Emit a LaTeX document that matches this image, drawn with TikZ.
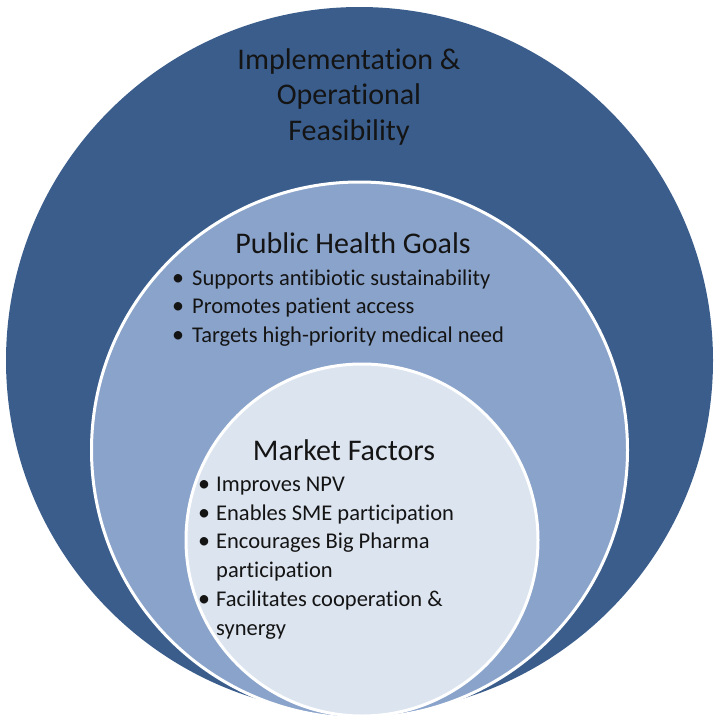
\documentclass[tikz,border=0pt]{standalone}
\usepackage{fontspec}
\setmainfont{Carlito}[Ligatures={NoCommon}]
\definecolor{outerblue}{HTML}{3A5D8C}
\definecolor{midblue}{HTML}{8AA3CB}
\definecolor{innerblue}{HTML}{DCE4F0}
\definecolor{txt}{HTML}{141414}
\begin{document}
\begin{tikzpicture}[x=1pt,y=-1pt,
  ring/.style={circle, inner sep=0pt, outer sep=0pt, draw=white, line width=3pt},
  head/.style={anchor=base, inner sep=0pt, font=\fontsize{30}{36}\selectfont, text=txt},
  item/.style={anchor=base west, inner sep=0pt, font=\fontsize{22.5}{29}\selectfont, text=txt},
  dot/.style={anchor=base, inner sep=0pt, font=\fontsize{24}{29}\selectfont, text=txt}]
\useasboundingbox (0,0) rectangle (720,720);
\node[ring, draw=none, fill=outerblue, minimum size=707pt] (outer) at (359.5,360.5) {};
\node[ring, fill=midblue, minimum size=536pt] (middle) at (359.5,450) {};
\node[ring, fill=innerblue, minimum size=352pt] (inner) at (362,540) {};
% outer ring title
\node[head] (t1) at (349,69) {Implementation \&};
\node[head] (t2) at (349,104.5) {Operational};
\node[head] (t3) at (349,140) {Feasibility};
% public health goals
\node[head] (ph) at (353,253) {Public Health Goals};
\node[dot] (pb1) at (178,285) {•};
\node[item] (pi1) at (192,285) {Supports antibiotic sustainability};
\node[dot] (pb2) at (178,313.5) {•};
\node[item] (pi2) at (192,313.5) {Promotes patient access};
\node[dot] (pb3) at (178,342) {•};
\node[item] (pi3) at (192,342) {Targets high-priority medical need};
% market factors
\node[head] (mf) at (344,460) {Market Factors};
\node[dot] (mb1) at (204,491.5) {•};
\node[item] (mi1) at (216,491.5) {Improves NPV};
\node[dot] (mb2) at (204,520.2) {•};
\node[item] (mi2) at (216,520.2) {Enables SME participation};
\node[dot] (mb3) at (204,548.9) {•};
\node[item] (mi3) at (216,548.9) {Encourages Big Pharma};
\node[item] (mi3b) at (216,577.6) {participation};
\node[dot] (mb4) at (204,606.3) {•};
\node[item] (mi4) at (216,606.3) {Facilitates cooperation \&};
\node[item] (mi4b) at (216,635) {synergy};
\end{tikzpicture}
\end{document}
